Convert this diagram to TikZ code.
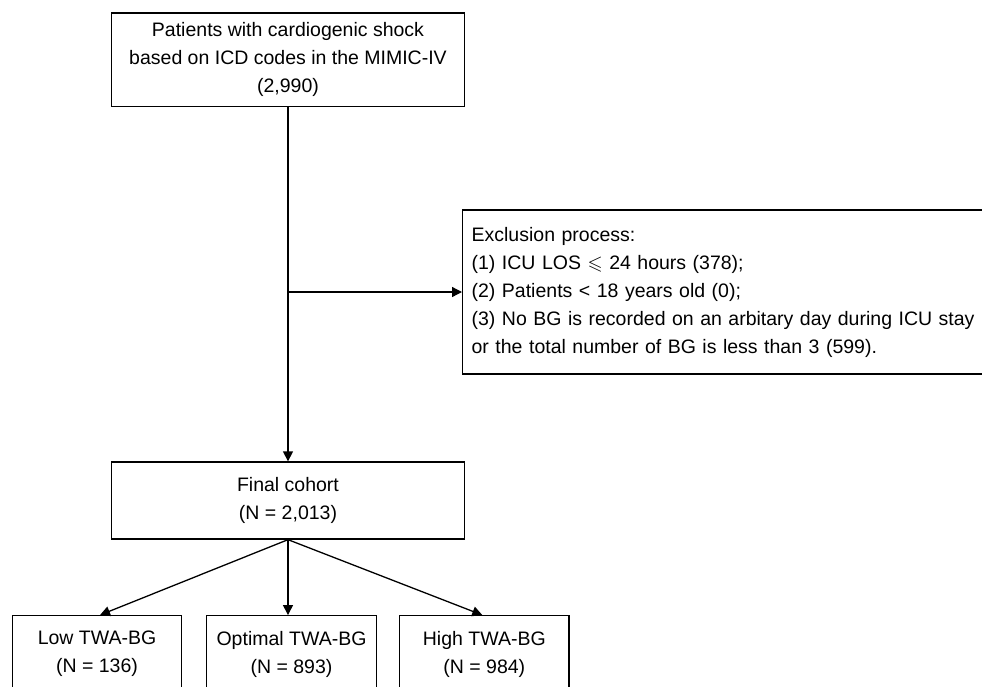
\documentclass[tikz,border=0pt]{standalone}
\usepackage{amssymb}
\usepackage{fontspec}
\setmainfont{Liberation Sans}
\usetikzlibrary{arrows.meta}
\begin{document}
\begin{tikzpicture}[x=1pt,y=-1pt,
  box/.style={draw,line width=1.3pt,align=center,inner sep=0pt,
    font=\fontsize{19.5}{28}\selectfont},
  arr/.style={line width=1.3pt,-{Triangle[length=10pt,width=10pt]}},
  ln/.style={line width=1.3pt}]
\useasboundingbox (0,0) rectangle (982,687);
\clip (0,0) rectangle (982,687);
\node[box,minimum width=353pt,minimum height=93.5pt] (top) at (288,59.75)
  {Patients with cardiogenic shock\\based on ICD codes in the MIMIC-IV\\(2,990)};
\node[box,minimum width=353pt,minimum height=77pt] (final) at (288,500.5)
  {Final cohort\\(N = 2,013)};
\node[box,anchor=west,align=left,text width=512pt,inner xsep=9pt,minimum height=164pt] (excl) at (462,292)
  {Exclusion process:\\
   (1) ICU LOS $\leqslant$ 24 hours (378);\\
   (2) Patients < 18 years old (0);\\
   (3) No BG is recorded on an arbitary day during ICU stay\\
   or the total number of BG is less than 3 (599).};
\node[box,minimum width=169pt,minimum height=77pt] (low) at (97,654.2)
  {Low TWA-BG\\(N = 136)};
\node[box,minimum width=170pt,minimum height=77pt] (opt) at (291.5,654.2)
  {Optimal TWA-BG\\(N = 893)};
\node[box,minimum width=169.5pt,minimum height=77pt] (high) at (484.3,654.2)
  {High TWA-BG\\(N = 984)};
\coordinate (split) at (top.south |- excl.west);
\draw[arr] (top.south) -- (final.north);
\draw[arr] (split) -- (excl.west);
\draw[arr] (final.south) -- ([xshift=3pt]low.north);
\draw[arr] (final.south) -- (final.south |- opt.north);
\draw[arr] (final.south) -- ([xshift=-2pt]high.north);
\end{tikzpicture}
\end{document}
